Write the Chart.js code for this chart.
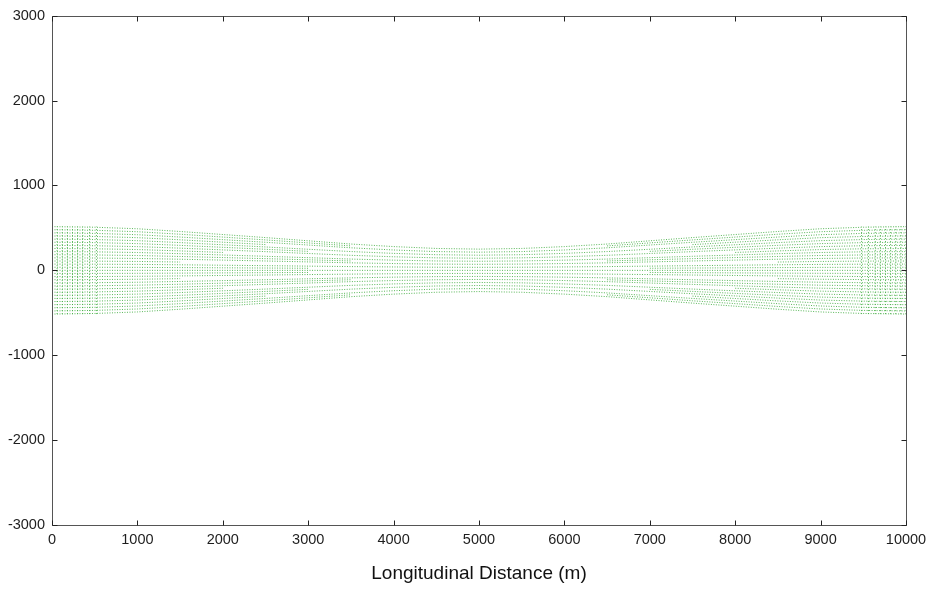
<!DOCTYPE html>
<html>
<head>
<meta charset="utf-8">
<script src="https://cdn.jsdelivr.net/npm/chart.js@4/dist/chart.umd.min.js"></script>
<style>
html,body{margin:0;padding:0;background:#fff;}
#wrap{width:933px;height:590px;position:relative;}
</style>
</head>
<body>
<div id="wrap"><canvas id="c" width="933" height="590"></canvas></div>
<script>
// Channel stations along the length (m) and the half-width of the mesh (m)
const stations  = [0, 500, 1000, 1500, 2000, 2500, 3000, 3500, 4000, 4500, 5000,
                   5500, 6000, 6500, 7000, 7500, 8000, 8500, 9000, 9500, 10000];
const halfWidth = [515, 508, 490, 458, 422, 386, 348, 310, 280, 258, 250,
                   258, 280, 310, 348, 386, 422, 458, 490, 508, 515];
// Mesh lines running the whole length, as fractions of the half-width
const mainRows = [-1, -0.857, -0.714, -0.571, -0.429, -0.286, -0.143, 0,
                  0.143, 0.286, 0.429, 0.571, 0.714, 0.857, 1];
// Extra mesh lines in the wider (refined) end reaches, as fractions of the half-width,
// and how far (m) each one runs in from either end before it stops
const endRows  = [-0.929, -0.786, -0.643, -0.5, -0.357, -0.214, -0.071,
                  0.071, 0.214, 0.357, 0.5, 0.643, 0.786, 0.929];
const endReach = [3500, 2500, 3000, 2000, 3500, 1500, 3000,
                  3000, 1500, 3500, 2000, 3000, 2500, 3500];
const totalLength = 10000;
// Cross-section lines visible at both ends of the mesh (m)
const endColumns = [0, 60, 120, 180, 240, 300, 360, 440, 520,
                    9480, 9560, 9640, 9700, 9760, 9820, 9880, 9940, 10000];
const xTicks = [0,1000,2000,3000,4000,5000,6000,7000,8000,9000,10000];
const yTicks = [-3000,-2000,-1000,0,1000,2000,3000];
const xTitle = 'Longitudinal Distance (m)';

const meshColor = 'rgba(70,175,70,0.9)';
const lineStyle = {borderColor: meshColor, borderWidth: 1, borderDash: [1, 1.5],
                   pointRadius: 0, fill: false, tension: 0};
const datasets = [];
const rowPoints = f => stations.map((s, i) => ({x: s, y: f * halfWidth[i]}));
mainRows.forEach(f => {
  datasets.push(Object.assign({data: rowPoints(f)}, lineStyle));
});
endRows.forEach((f, k) => {
  const reach = endReach[k];
  datasets.push(Object.assign({data: rowPoints(f).filter(p => p.x <= reach)}, lineStyle));
  datasets.push(Object.assign({data: rowPoints(f).filter(p => p.x >= totalLength - reach)}, lineStyle));
});
endColumns.forEach(c => {
  const idx = c < totalLength / 2 ? 0 : stations.length - 1;
  const hw = halfWidth[idx];
  datasets.push(Object.assign({data: [{x: c, y: -hw}, {x: c, y: hw}]}, lineStyle, {borderDash: [1, 2]}));
});

const framePlugin = {
  id: 'frame',
  afterDatasetsDraw(chart) {
    const {ctx, chartArea: a, scales: {x, y}} = chart;
    ctx.save();
    ctx.strokeStyle = '#555';
    ctx.lineWidth = 1;
    ctx.beginPath();
    const l = Math.round(a.left) + 0.5, t = Math.round(a.top) + 0.5;
    const r = Math.round(a.right) + 0.5, b = Math.round(a.bottom) + 0.5;
    ctx.rect(l, t, r - l, b - t);
    ctx.stroke();
    ctx.strokeStyle = '#222';
    ctx.beginPath();
    const L = 5;
    xTicks.forEach(v => {
      const px = Math.round(x.getPixelForValue(v)) + 0.5;
      ctx.moveTo(px, b); ctx.lineTo(px, b - L);
      ctx.moveTo(px, t); ctx.lineTo(px, t + L);
    });
    yTicks.forEach(v => {
      const py = Math.round(y.getPixelForValue(v)) + 0.5;
      ctx.moveTo(l, py); ctx.lineTo(l + L, py);
      ctx.moveTo(r, py); ctx.lineTo(r - L, py);
    });
    ctx.stroke();
    ctx.restore();
  }
};

new Chart(document.getElementById('c'), {
  type: 'line',
  data: {datasets},
  options: {
    responsive: false,
    animation: false,
    events: [],
    layout: {padding: {top: 13, right: 27, left: 0, bottom: 0}},
    plugins: {legend: {display: false}, tooltip: {enabled: false}},
    scales: {
      x: {
        type: 'linear', min: 0, max: 10000,
        grid: {display: false, drawTicks: false}, border: {display: false},
        afterBuildTicks: s => { s.ticks = xTicks.map(v => ({value: v})); },
        afterFit: s => { s.height = 65; },
        ticks: {padding: 6, color: '#1e1e1e', maxRotation: 0,
                font: {family: 'Liberation Sans', size: 14.5},
                callback: v => String(v)},
        title: {display: true, text: xTitle, color: '#111',
                font: {family: 'Liberation Sans', size: 19},
                padding: {top: 5, bottom: 5}}
      },
      y: {
        type: 'linear', min: -3000, max: 3000,
        grid: {display: false, drawTicks: false}, border: {display: false},
        afterBuildTicks: s => { s.ticks = yTicks.map(v => ({value: v})); },
        afterFit: s => { s.width = 52; },
        ticks: {padding: 7, color: '#1e1e1e',
                font: {family: 'Liberation Sans', size: 14.5},
                callback: v => String(v)}
      }
    }
  },
  plugins: [framePlugin]
});
</script>
</body>
</html>
